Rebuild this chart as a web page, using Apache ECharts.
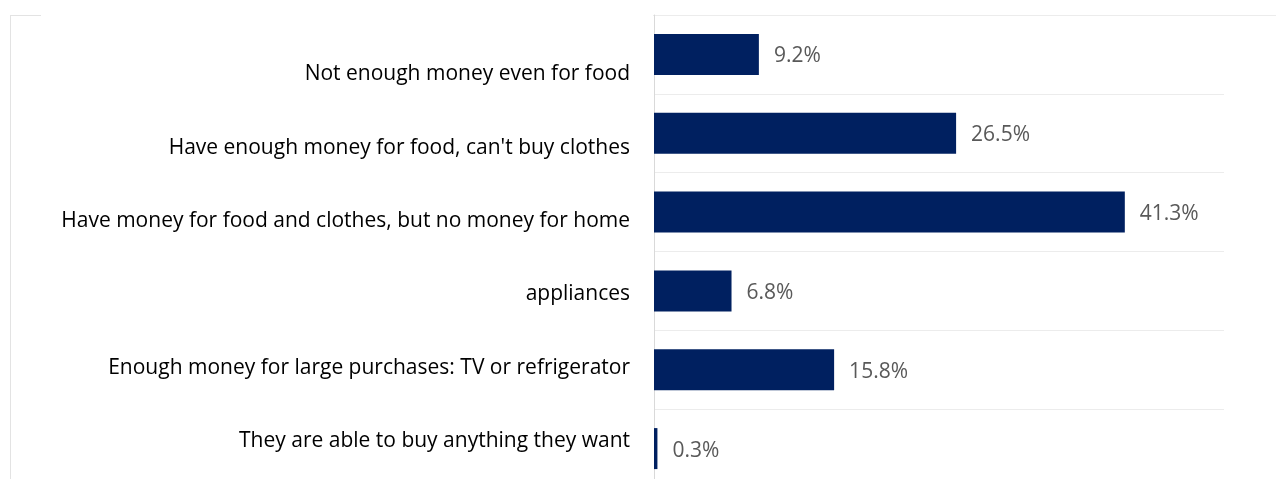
<!DOCTYPE html>
<html>
<head>
<meta charset="utf-8">
<script src="https://cdn.jsdelivr.net/npm/echarts@6/dist/echarts.min.js"></script>
<style>
  html, body { margin: 0; padding: 0; background: #fff; }
  #chart { width: 1276px; height: 479px; }
</style>
</head>
<body>
<div id="chart"></div>
<script>
// Household financial situation, share of respondents (%)
const categories = [
  'Not enough money even for food',
  "Have enough money for food, can't buy clothes",
  'Have money for food and clothes, but no money for home',
  'appliances',
  'Enough money for large purchases: TV or refrigerator',
  'They are able to buy anything they want'
];
const shares = [9.2, 26.5, 41.3, 6.8, 15.8, 0.3];

const FONT = 'Open Sans';
const chart = echarts.init(document.getElementById('chart'), null, { renderer: 'canvas' });

chart.setOption({
  animation: false,
  backgroundColor: '#ffffff',
  grid: [
    // bars (last band runs past the bottom edge)
    { left: 654, width: 570, top: 15, height: 473, containLabel: false, outerBoundsMode: 'none' },
    // category captions sit on their own, slightly tighter band
    { left: 654, width: 570, top: 37.8, height: 440, containLabel: false, outerBoundsMode: 'none' }
  ],
  xAxis: [
    {
      gridIndex: 0, type: 'value', min: 0, max: 50,
      axisLine: { show: false }, axisTick: { show: false },
      axisLabel: { show: false }, splitLine: { show: false }
    },
    {
      gridIndex: 1, type: 'value', min: 0, max: 50, show: false
    }
  ],
  yAxis: [
    {
      gridIndex: 0,
      type: 'category',
      inverse: true,
      data: categories,
      axisLine: { show: true, lineStyle: { color: '#d9d9d9', width: 1 } },
      axisTick: { show: false },
      axisLabel: { show: false },
      splitLine: { show: true, lineStyle: { color: '#ececec', width: 1 } }
    },
    {
      gridIndex: 1,
      type: 'category',
      inverse: true,
      data: categories,
      axisLine: { show: false },
      axisTick: { show: false },
      splitLine: { show: false },
      axisLabel: { margin: 24, color: '#000000', fontFamily: FONT, fontSize: 21 }
    }
  ],
  series: [{
    type: 'bar',
    xAxisIndex: 0,
    yAxisIndex: 0,
    data: shares,
    barCategoryGap: '48%',
    itemStyle: { color: '#002060' },
    label: {
      show: true,
      position: 'right',
      distance: 15,
      offset: [0, 2],
      formatter: p => p.value.toFixed(1) + '%',
      color: '#595959',
      fontFamily: FONT,
      fontSize: 21
    }
  }],
  graphic: [
    { type: 'line', shape: { x1: 10.5, y1: 15.5, x2: 10.5, y2: 479 }, style: { stroke: '#e3e3e3', lineWidth: 1 } },
    { type: 'line', shape: { x1: 10, y1: 15.5, x2: 41, y2: 15.5 }, style: { stroke: '#e3e3e3', lineWidth: 1 } },
    { type: 'line', shape: { x1: 653, y1: 15.5, x2: 1276, y2: 15.5 }, style: { stroke: '#ececec', lineWidth: 1 } }
  ]
});
</script>
</body>
</html>
